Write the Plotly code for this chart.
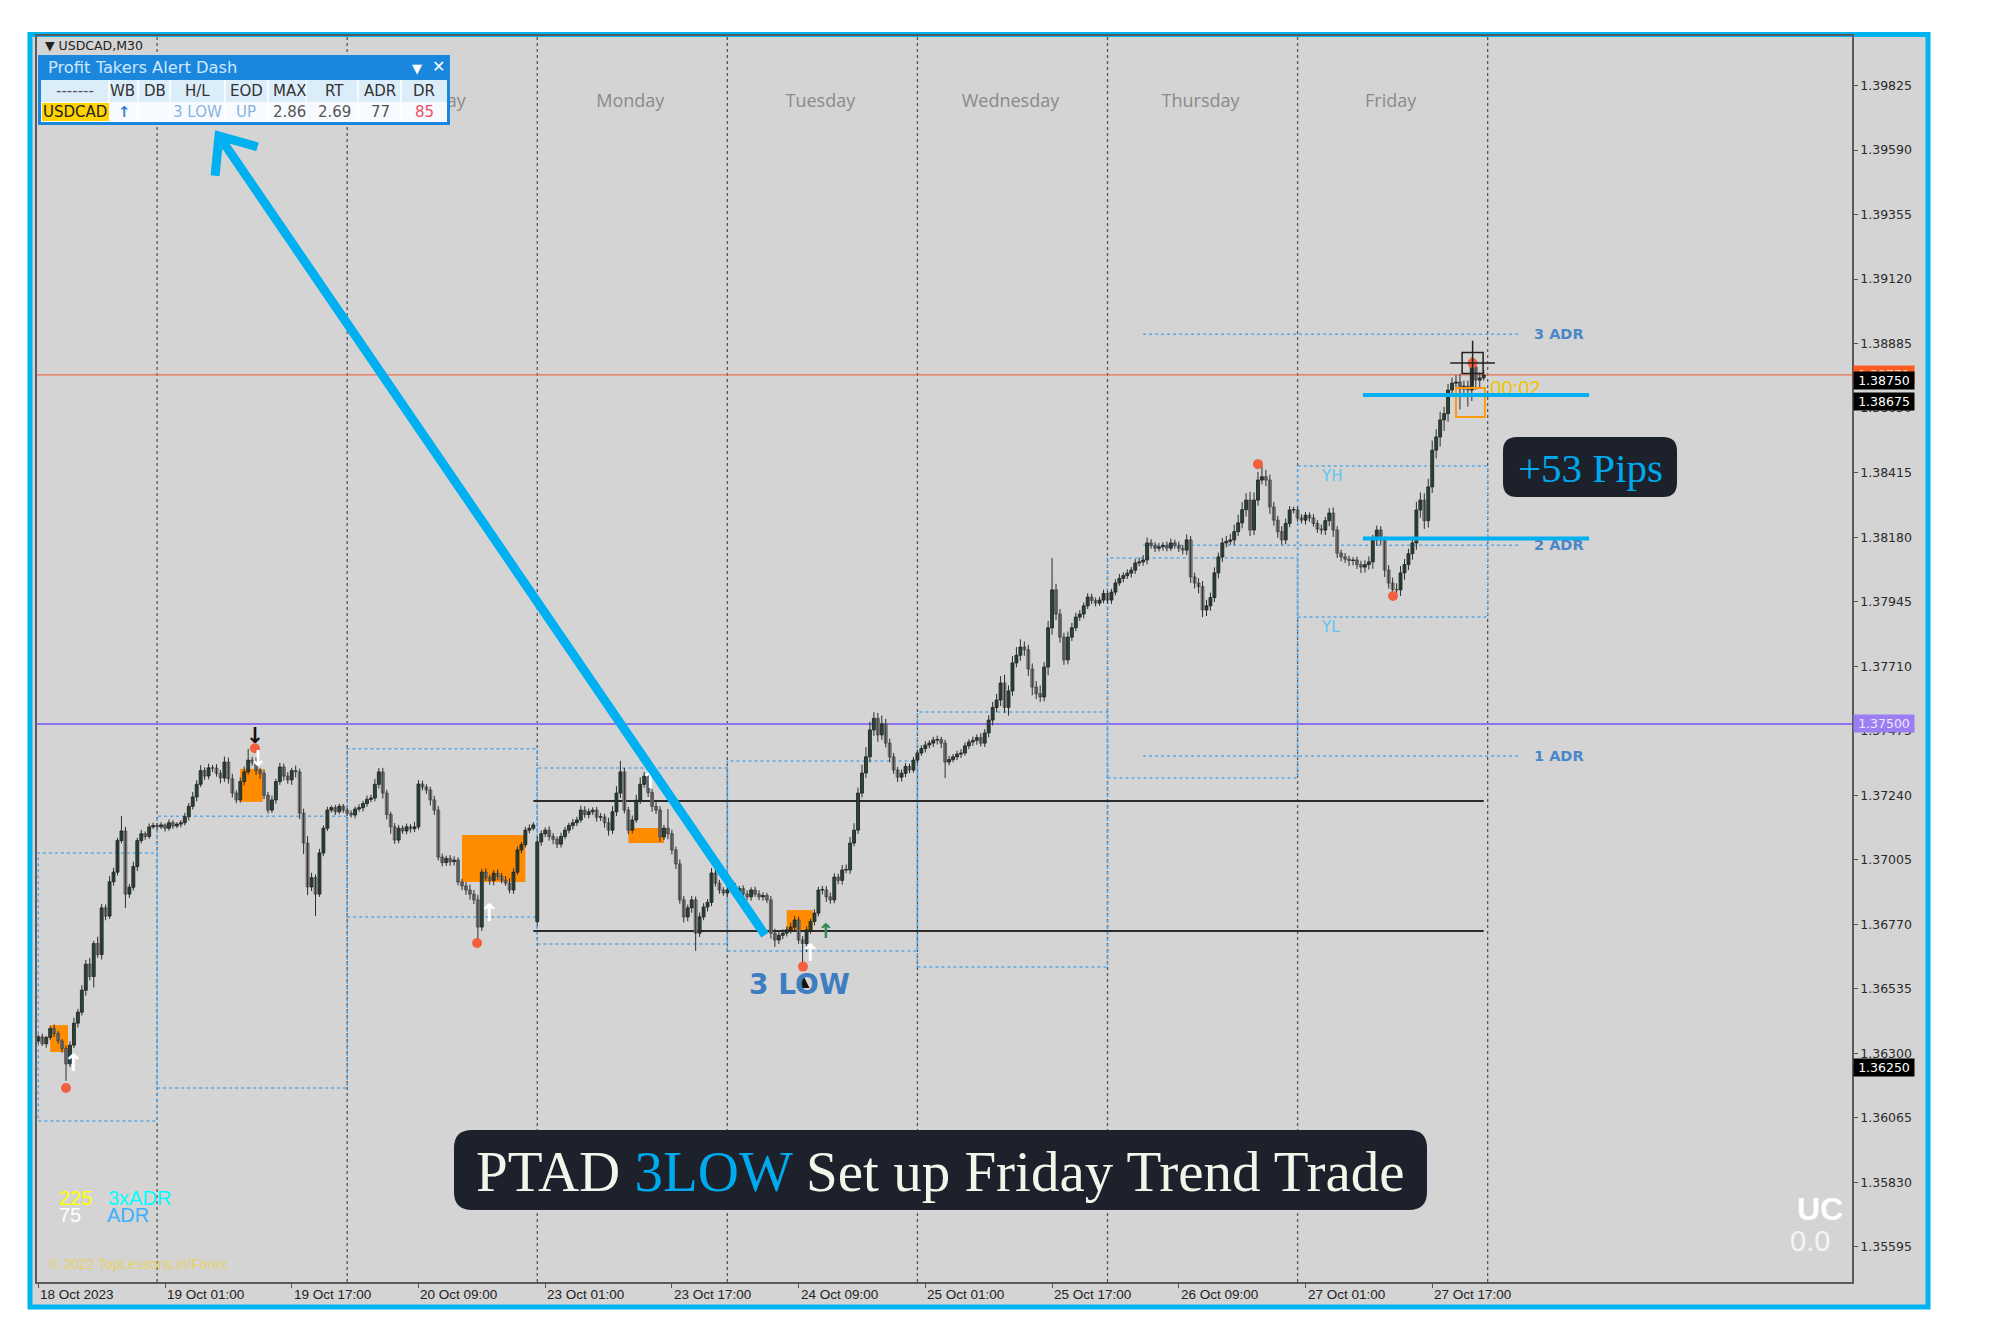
import math
import plotly.graph_objects as go

# ---------------- DATA (prices stored as points above 1.30000) ----------------
FIRST_OPEN = 6345
GAP_OPENS = {126: 6780}

DAY18_C = [6360, 6335, 6358, 6390, 6372, 6345, 6318, 6262, 6330, 6410,
           6450, 6530, 6625, 6580, 6700, 6660, 6830, 6800, 6925, 6960,
           7075, 7110, 6880, 6905, 6980, 7075, 7100, 7090, 7125, 7130]
DAY18_UP = [8, 12, 6, 10, 15, 9, 7, 10, 14, 20, 12, 18, 15, 22, 10, 25, 14, 12, 20, 16,
            10, 54, 15, 12, 18, 10, 14, 8, 12, 10]
DAY18_DN = [10, 8, 14, 9, 12, 10, 15, 62, 12, 10, 16, 12, 20, 14, 40, 12, 18, 15, 10, 14,
            12, 10, 50, 14, 12, 16, 10, 12, 9, 8]

DAY19_C = [7125, 7132, 7120, 7140, 7128, 7135, 7140, 7162, 7200, 7234,
           7280, 7330, 7310, 7340, 7339, 7320, 7303, 7361, 7300, 7248,
           7223, 7290, 7325, 7368, 7360, 7330, 7320, 7240, 7186, 7223,
           7290, 7343, 7310, 7296, 7330, 7325, 7175, 7066, 6906, 6940,
           6880, 7030, 7120, 7186, 7195, 7180, 7200, 7186]
DAY19_UP = [8, 10, 6, 12, 9, 7, 10, 14, 12, 18, 15, 20, 12, 15, 10, 14, 12, 20, 16, 18,
            10, 15, 20, 41, 12, 18, 10, 14, 12, 16, 10, 15, 12, 14, 10, 18, 12, 16, 25, 18,
            12, 15, 10, 12, 8, 10, 9, 8]
DAY19_DN = [10, 8, 12, 9, 10, 8, 12, 10, 14, 12, 16, 10, 14, 12, 15, 12, 20, 14, 18, 16,
            12, 10, 14, 10, 12, 16, 20, 14, 12, 10, 14, 12, 16, 14, 18, 20, 22, 40, 30, 15,
            80, 10, 12, 10, 9, 12, 8, 10]

DAY20_C = [7175, 7168, 7190, 7195, 7210, 7225, 7230, 7280, 7325, 7248,
           7170, 7125, 7077, 7120, 7110, 7125, 7118, 7125, 7281, 7270,
           7259, 7223, 7186, 7015, 6995, 7010, 6998, 7004, 6924, 6910,
           6895, 6880, 6859, 6760, 6960, 6940, 6930, 6956, 6945, 6931,
           6920, 6895, 6960, 7041, 7060, 7113, 7120, 7132]
DAY20_UP = [8, 10, 9, 12, 10, 14, 12, 20, 14, 15, 12, 10, 14, 12, 10, 12, 10, 18, 14, 12,
            10, 12, 15, 14, 12, 10, 12, 14, 10, 12, 14, 20, 15, 18, 12, 14, 10, 12, 14, 12,
            15, 18, 14, 12, 10, 12, 14, 10]
DAY20_DN = [10, 9, 12, 10, 14, 12, 10, 12, 15, 20, 18, 25, 14, 12, 10, 12, 14, 12, 10, 12,
            14, 20, 18, 12, 14, 12, 15, 14, 12, 16, 18, 20, 15, 62, 14, 12, 16, 18, 14, 12,
            10, 12, 14, 10, 12, 10, 12, 8]

DAY23_C = [7070, 7100, 7113, 7090, 7080, 7062, 7090, 7113, 7130, 7140,
           7150, 7186, 7170, 7180, 7186, 7160, 7161, 7140, 7113, 7180,
           7248, 7325, 7186, 7113, 7150, 7222, 7280, 7310, 7250, 7200,
           7186, 7088, 7120, 7100, 7041, 6990, 6859, 6797, 6830, 6859,
           6738, 6797, 6833, 6850, 6957, 6920, 6895, 6884]
DAY23_UP = [20, 12, 10, 14, 12, 10, 14, 12, 10, 14, 12, 16, 14, 12, 10, 12, 14, 12, 18, 20,
            25, 40, 14, 12, 16, 20, 25, 15, 14, 12, 18, 14, 12, 70, 14, 12, 16, 14, 12, 14,
            12, 16, 14, 12, 18, 14, 12, 10]
DAY23_DN = [12, 14, 12, 15, 18, 14, 12, 10, 12, 14, 12, 10, 12, 14, 12, 16, 14, 18, 20, 14,
            16, 18, 12, 14, 12, 10, 14, 12, 16, 20, 14, 18, 12, 20, 16, 18, 14, 20, 16, 18,
            65, 14, 12, 16, 14, 12, 14, 10]

DAY24_C = [6895, 6907, 6890, 6900, 6880, 6870, 6895, 6880, 6870, 6875,
           6859, 6738, 6713, 6730, 6738, 6750, 6760, 6786, 6713, 6700,
           6750, 6780, 6811, 6895, 6895, 6870, 6859, 6942, 6930, 6968,
           6968, 7066, 7113, 7248, 7321, 7380, 7478, 7520, 7460, 7500,
           7430, 7380, 7332, 7306, 7320, 7345, 7332, 7368]
DAY24_UP = [10, 12, 14, 10, 12, 14, 10, 12, 14, 12, 10, 14, 16, 12, 14, 12, 16, 14, 12, 14,
            12, 10, 14, 12, 15, 14, 16, 14, 12, 18, 20, 22, 25, 20, 30, 35, 30, 23, 20, 30,
            18, 16, 14, 12, 14, 12, 10, 12]
DAY24_DN = [12, 10, 14, 12, 10, 12, 14, 10, 12, 14, 12, 20, 25, 15, 14, 12, 14, 16, 14, 85,
            30, 14, 14, 12, 16, 18, 14, 12, 14, 16, 12, 14, 12, 14, 16, 18, 20, 22, 25, 18,
            16, 20, 14, 18, 16, 14, 12, 10]

DAY25_C = [7394, 7410, 7423, 7430, 7441, 7443, 7430, 7361, 7370, 7380,
           7390, 7394, 7420, 7434, 7440, 7450, 7430, 7467, 7514, 7560,
           7587, 7649, 7560, 7620, 7722, 7750, 7780, 7770, 7700, 7634,
           7610, 7598, 7707, 7850, 7988, 7900, 7816, 7733, 7816, 7850,
           7889, 7900, 7930, 7962, 7950, 7940, 7951, 7975]
DAY25_UP = [10, 12, 14, 10, 12, 14, 10, 12, 14, 10, 12, 14, 12, 10, 14, 12, 16, 14, 18, 20,
            22, 25, 30, 20, 25, 30, 28, 20, 18, 20, 22, 30, 18, 25, 116, 22, 18, 16, 20, 18,
            16, 14, 12, 14, 12, 10, 12, 14]
DAY25_DN = [12, 10, 14, 12, 14, 16, 18, 58, 12, 10, 12, 14, 10, 12, 14, 16, 12, 14, 16, 20,
            18, 22, 20, 30, 18, 16, 20, 22, 25, 30, 20, 18, 16, 30, 25, 22, 20, 18, 16, 14,
            12, 14, 16, 12, 14, 12, 10, 12]

DAY26_C = [7951, 7980, 8013, 8030, 8040, 8049, 8060, 8086, 8090, 8097,
           8159, 8150, 8140, 8145, 8150, 8140, 8159, 8150, 8140, 8133,
           8170, 8035, 8013, 8000, 7915, 7930, 7960, 8050, 8108, 8159,
           8165, 8170, 8200, 8232, 8280, 8315, 8206, 8315, 8388, 8400,
           8388, 8290, 8242, 8200, 8170, 8230, 8279, 8279]
DAY26_UP = [10, 12, 14, 16, 12, 14, 12, 14, 16, 18, 20, 14, 12, 14, 12, 14, 16, 12, 14, 12,
            20, 14, 16, 18, 20, 22, 18, 20, 16, 18, 20, 22, 25, 30, 28, 25, 30, 28, 30, 40,
            25, 20, 18, 16, 20, 18, 14, 12]
DAY26_DN = [12, 14, 12, 10, 14, 12, 16, 14, 12, 14, 16, 12, 14, 12, 14, 12, 10, 12, 14, 16,
            18, 22, 20, 25, 26, 22, 18, 16, 20, 18, 16, 14, 18, 16, 20, 25, 22, 18, 20, 16,
            22, 25, 20, 22, 18, 16, 14, 12]

DAY27_C = [8250, 8242, 8260, 8250, 8230, 8210, 8206, 8240, 8268, 8206,
           8122, 8108, 8100, 8095, 8097, 8080, 8071, 8080, 8090, 8170,
           8206, 8170, 8060, 8013, 7990, 7988, 8050, 8080, 8120, 8159,
           8279, 8315, 8240, 8363, 8497, 8545, 8607, 8630, 8716, 8741,
           8745, 8720, 8730, 8716, 8800, 8752, 8760, 8771]
DAY27_UP = [12, 14, 12, 10, 14, 12, 16, 14, 18, 20, 14, 12, 14, 12, 10, 12, 14, 16, 20, 18,
            16, 14, 12, 18, 20, 22, 25, 20, 18, 22, 30, 28, 25, 30, 35, 28, 30, 25, 22, 20,
            25, 30, 20, 20, 35, 22, 20, 18]
DAY27_DN = [14, 12, 16, 14, 12, 14, 16, 18, 20, 25, 18, 16, 14, 20, 18, 16, 22, 20, 18, 25,
            22, 20, 25, 20, 20, 18, 22, 25, 20, 22, 25, 28, 30, 25, 22, 30, 35, 40, 30, 25,
            40, 75, 30, 60, 40, 35, 30, 10]

DAY_SIZES = [30, 48, 48, 48, 48, 48, 48, 48]
# weekday captions shown on the chart (the 18/19 Oct captions sit under the dashboard)
CAPTION_DAYS = [2, 3, 4, 5, 6, 7]
DAY_NAMES = ["Wednesday", "Thursday", "Friday", "Monday", "Tuesday", "Wednesday", "Thursday", "Friday"]

# previous-day high / low boxes (points)
BOX_HIGH = [7030, 7164, 7409, 7339, 7365, 7543, 8104, 8439]
BOX_LOW = [6054, 6174, 6797, 6698, 6673, 6615, 7303, 7889]

# x-axis labels (every 32 bars)
TICK_TEXT = ["18 Oct 2023", "19 Oct 01:00", "19 Oct 17:00", "20 Oct 09:00", "23 Oct 01:00",
             "23 Oct 17:00", "24 Oct 09:00", "25 Oct 01:00", "25 Oct 17:00", "26 Oct 09:00",
             "27 Oct 01:00", "27 Oct 17:00"]
Y_TICKS = [1.39825, 1.39590, 1.39355, 1.39120, 1.38885, 1.38650, 1.38415, 1.38180, 1.37945,
           1.37710, 1.37475, 1.37240, 1.37005, 1.36770, 1.36535, 1.36300, 1.36065, 1.35830,
           1.35595]

ADR_LEVELS = [7383, 8151, 8919]
ADR_NAMES = ["1 ADR", "2 ADR", "3 ADR"]
ADR_FROM, ADR_TO = 279, 374
RANGE_LINES = [7219, 6746]          # black horizontal levels
RANGE_FROM, RANGE_TO = 125, 365
TARGET_LINES = [8698, 8175]          # cyan trade lines
TARGET_FROM, TARGET_TO = 334.5, 391.6
BID_LEVEL = 8771
ROUND_LEVEL = 7500

ZONE_X0 = [3.0, 51.0, 107.0, 149.0, 189.0]
ZONE_X1 = [7.5, 56.7, 123.0, 158.0, 195.6]
ZONE_LO = [6305, 7216, 6924, 7066, 6749]
ZONE_HI = [6403, 7336, 7095, 7121, 6822]

DOT_X = [7.0, 54.7, 110.8, 193.1, 308.0, 342.1, 362.2]
DOT_Y = [6174, 7411, 6702, 6616, 8446, 7966, 8814]
WUP_X = [8.8, 113.8, 194.9, 154.5]
WUP_Y = [6258, 6804, 6658, 7288]
WDN_X = [55.5]
WDN_Y = [7368]
GUP_X = [198.9]
GUP_Y = [6738]
BDN_X = [54.7]
BDN_Y = [7449]
BUP_X = [193.1]
BUP_Y = [6585]

PRICE_BOXES = [(1.38771, "1.38771", "#ff5a1f", "#ffd0c0"),
               (1.38750, "1.38750", "#000000", "#ffffff"),
               (1.38675, "1.38675", "#000000", "#ffffff"),
               (1.37500, "1.37500", "#9b7ff2", "#ece6ff"),
               (1.36250, "1.36250", "#000000", "#ffffff")]

# ---------------- build OHLC ----------------
DAYS_C = [DAY18_C, DAY19_C, DAY20_C, DAY23_C, DAY24_C, DAY25_C, DAY26_C, DAY27_C]
DAYS_UP = [DAY18_UP, DAY19_UP, DAY20_UP, DAY23_UP, DAY24_UP, DAY25_UP, DAY26_UP, DAY27_UP]
DAYS_DN = [DAY18_DN, DAY19_DN, DAY20_DN, DAY23_DN, DAY24_DN, DAY25_DN, DAY26_DN, DAY27_DN]
for n, c, u, d in zip(DAY_SIZES, DAYS_C, DAYS_UP, DAYS_DN):
    assert len(c) == n and len(u) == n and len(d) == n, (n, len(c), len(u), len(d))

closes = [v for day in DAYS_C for v in day]
ups = [v for day in DAYS_UP for v in day]
dns = [v for day in DAYS_DN for v in day]
opens = []
prev = FIRST_OPEN
for i, c in enumerate(closes):
    opens.append(GAP_OPENS.get(i, prev))
    prev = c
highs = [max(o, c) + u for o, c, u in zip(opens, closes, ups)]
lows = [min(o, c) - d for o, c, d in zip(opens, closes, dns)]


def P(v):
    return 1.3 + v / 1e5


day_start = [0]
for n in DAY_SIZES:
    day_start.append(day_start[-1] + n)
N = day_start[-1]
X = list(range(N))

# ---------------- geometry ----------------
W, H = 2000, 1333
PL, PR, PT, PB = 37, 1852, 36, 1282
PW, PH = PR - PL, PB - PT
BAR_PX = 3.96
XR0 = -(38.3 - PL) / BAR_PX
XR1 = XR0 + PW / BAR_PX
PPX = 3.642e-5                      # price per pixel
Y1 = 1.39825 + (85.5 - PT) * PPX
Y0 = Y1 - PH * PPX


def PX(x):
    return (x - PL) / PW


def PY(y):
    return (PB - y) / PH


shapes = []
ann = []
SANS = "DejaVu Sans, Verdana, sans-serif"
ARIAL = "Liberation Sans, Arial, sans-serif"
SERIF = "Liberation Serif, Times New Roman, serif"


def prect(x0, y0, x1, y1, fill=None, line=None, lw=0, layer="above"):
    shapes.append(dict(type="rect", xref="paper", yref="paper", x0=PX(x0), x1=PX(x1),
                       y0=PY(y1), y1=PY(y0), fillcolor=fill or "rgba(0,0,0,0)",
                       line=dict(color=line or "rgba(0,0,0,0)", width=lw), layer=layer))


def pline(x0, y0, x1, y1, color, lw, layer="above", dash="solid"):
    shapes.append(dict(type="line", xref="paper", yref="paper", x0=PX(x0), x1=PX(x1),
                       y0=PY(y0), y1=PY(y1), line=dict(color=color, width=lw, dash=dash),
                       layer=layer))


def rrect(x0, y0, x1, y1, r, fill):
    pts = [("M", x0 + r, y0), ("L", x1 - r, y0), ("Q", x1, y0, x1, y0 + r), ("L", x1, y1 - r),
           ("Q", x1, y1, x1 - r, y1), ("L", x0 + r, y1), ("Q", x0, y1, x0, y1 - r),
           ("L", x0, y0 + r), ("Q", x0, y0, x0 + r, y0)]
    s = ""
    for p in pts:
        coords = p[1:]
        seg = [f"{PX(coords[k]):.6f},{PY(coords[k + 1]):.6f}" for k in range(0, len(coords), 2)]
        s += p[0] + " " + " ".join(seg) + " "
    s += "Z"
    shapes.append(dict(type="path", xref="paper", yref="paper", path=s, fillcolor=fill,
                       line=dict(width=0), layer="above"))


def txt(x, y, s, size, color, family=SANS, xanchor="center", yanchor="middle", bold=False):
    if bold:
        s = "<b>" + s + "</b>"
    ann.append(dict(xref="paper", yref="paper", x=PX(x), y=PY(y), text=s, showarrow=False,
                    xanchor=xanchor, yanchor=yanchor,
                    font=dict(size=size, color=color, family=family)))


# outer cyan frame with grey fill
shapes.append(dict(type="rect", xref="paper", yref="paper", x0=PX(30), x1=PX(1928),
                   y0=PY(1307), y1=PY(34.5), fillcolor="#d4d4d4",
                   line=dict(color="#00b4f0", width=5), layer="below"))

# day separators
for s in day_start[1:]:
    shapes.append(dict(type="line", xref="x", yref="paper", x0=s, x1=s, y0=0, y1=1,
                       line=dict(color="#555555", width=1.3, dash="dot"), layer="below"))

# previous day high/low boxes
for k in range(len(DAY_SIZES)):
    shapes.append(dict(type="rect", xref="x", yref="y", x0=day_start[k], x1=day_start[k + 1],
                       y0=P(BOX_LOW[k]), y1=P(BOX_HIGH[k]), fillcolor="rgba(0,0,0,0)",
                       line=dict(color="#5aa9e6", width=1.5, dash="dot"), layer="below"))

# ADR levels
for lv in ADR_LEVELS:
    shapes.append(dict(type="line", xref="x", yref="y", x0=ADR_FROM, x1=ADR_TO, y0=P(lv), y1=P(lv),
                       line=dict(color="#5aa9e6", width=1.5, dash="dot"), layer="below"))

# bid and round level lines
shapes.append(dict(type="line", xref="paper", yref="y", x0=0, x1=1, y0=P(BID_LEVEL), y1=P(BID_LEVEL),
                   line=dict(color="#e8704f", width=1.2), layer="below"))
shapes.append(dict(type="line", xref="paper", yref="y", x0=0, x1=1, y0=P(ROUND_LEVEL), y1=P(ROUND_LEVEL),
                   line=dict(color="#8f72f0", width=2), layer="below"))

# orange zones
for x0, x1, lo, hi in zip(ZONE_X0, ZONE_X1, ZONE_LO, ZONE_HI):
    shapes.append(dict(type="rect", xref="x", yref="y", x0=x0, x1=x1, y0=P(lo), y1=P(hi),
                       fillcolor="#ff8c00", line=dict(width=0), layer="below"))
shapes.append(dict(type="rect", xref="x", yref="y", x0=358, x1=365.3, y0=P(8618), y1=P(8723),
                   fillcolor="rgba(0,0,0,0)", line=dict(color="#ff9a10", width=2), layer="above"))

# black range lines
for lv in RANGE_LINES:
    shapes.append(dict(type="line", xref="x", yref="y", x0=RANGE_FROM, x1=RANGE_TO, y0=P(lv), y1=P(lv),
                       line=dict(color="#2a2a2a", width=2), layer="below"))

# cyan target lines
for lv in TARGET_LINES:
    shapes.append(dict(type="line", xref="x", yref="y", x0=TARGET_FROM, x1=TARGET_TO, y0=P(lv), y1=P(lv),
                       line=dict(color="#00b0f0", width=4), layer="above"))

# big cyan arrow
tail = (765, 935)
tip = (219, 136)
dx, dy = tail[0] - tip[0], tail[1] - tip[1]
L = math.hypot(dx, dy)
bx, by = dx / L, dy / L
arms = []
for th in (math.radians(40), math.radians(-40)):
    ax = bx * math.cos(th) - by * math.sin(th)
    ay = bx * math.sin(th) + by * math.cos(th)
    arms.append((tip[0] + 40 * ax, tip[1] + 40 * ay))


def pp(p):
    return f"{PX(p[0]):.6f},{PY(p[1]):.6f}"


apath = f"M {pp(tail)} L {pp(tip)} M {pp(arms[0])} L {pp(tip)} L {pp(arms[1])}"
shapes.append(dict(type="path", xref="paper", yref="paper", path=apath,
                   line=dict(color="#00b0f0", width=9), layer="above"))

# ---------------- dashboard ----------------
prect(38, 55, 450, 125, fill="#1a86dc")
prect(41, 80, 447, 102, fill="#dcedfa")
prect(41, 102, 447, 122, fill="#f7fbff")
for cx in [109, 138, 170, 225, 268, 306, 358, 401]:
    pline(cx, 80, cx, 122, "#ffffff", 1.5)
prect(42, 103, 109, 121, fill="#ffd400")
txt(46, 67.5, "Profit Takers Alert Dash", 16.3, "#cfe6ff", xanchor="left")
txt(417, 68, "▼", 13, "#ffffff")
txt(438, 67, "✕", 16, "#ffffff", bold=True)
for lab, cx in zip(["-------", "WB", "DB", "H/L", "EOD", "MAX", "RT", "ADR", "DR"],
                   [75, 122, 155, 197, 246, 289, 334, 380, 424]):
    txt(cx, 91, lab, 15, "#555555" if lab.startswith("-") else "#333333")
row = [("USDCAD", 75, "#222222"), ("↑", 124, "#3b7fd0"), ("3 LOW", 197, "#8ab4e0"),
       ("UP", 246, "#8ab4e0"), ("2.86", 289, "#555555"), ("2.69", 334, "#555555"),
       ("77", 380, "#555555"), ("85", 424, "#e8506a")]
for lab, cx, col in row:
    txt(cx, 112, lab, 15, col, bold=(lab == "↑"))

txt(43, 45, "▼ USDCAD,M30", 12.5, "#222222", xanchor="left")

# ---------------- labels ----------------
for lv, name in zip(ADR_LEVELS, ADR_NAMES):
    ann.append(dict(xref="x", yref="y", x=ADR_TO + 3.2, y=P(lv), text="<b>" + name + "</b>",
                    showarrow=False, xanchor="left", yanchor="middle",
                    font=dict(size=14.5, color="#4a86c8", family=SANS)))
ann.append(dict(xref="x", yref="y", x=323.5, y=P(BOX_HIGH[7]), text="YH", showarrow=False,
                xanchor="left", yanchor="top", yshift=1, font=dict(size=15, color="#5cc6f2", family=SANS)))
ann.append(dict(xref="x", yref="y", x=323.5, y=P(BOX_LOW[7]), text="YL", showarrow=False,
                xanchor="left", yanchor="top", yshift=1, font=dict(size=15, color="#5cc6f2", family=SANS)))

txt(799, 985, "3 LOW", 28, "#3d7ec0", bold=True)

# price boxes on the right axis
for val, s, bg, fg in PRICE_BOXES:
    ann.append(dict(xref="paper", yref="y", x=1.0, y=val, text=s, showarrow=False, xanchor="left",
                    yanchor="middle", xshift=1, bgcolor=bg, borderpad=1, width=58,
                    font=dict(size=12.5, color=fg, family=SANS)))

# x-axis labels
for k, s in enumerate(TICK_TEXT):
    ann.append(dict(xref="x", yref="paper", x=k * 32, y=0, text=s, showarrow=False,
                    xanchor="left", yanchor="top", yshift=-3,
                    font=dict(size=13.5, color="#222222",
                              family="Liberation Sans Narrow, Arial Narrow, Liberation Sans, sans-serif")))

# bottom-left info
txt(57, 1198, "225", 20, "#ffff00", family=ARIAL, xanchor="left")
txt(106, 1198, "3xADR", 20, "#00ffff", family=ARIAL, xanchor="left")
txt(57, 1215, "75", 20, "#ffffff", family=ARIAL, xanchor="left")
txt(105, 1215, "ADR", 20, "#3ab0ff", family=ARIAL, xanchor="left")
txt(47, 1264, "© 2022 TopLessons.in/Forex", 14, "rgba(236,208,60,0.75)", family=ARIAL, xanchor="left")
txt(1820, 1209, "UC", 32, "#ffffff", family=ARIAL, bold=True)
txt(1810, 1241, "0.0", 29, "#f4f4f4", family=ARIAL)

# +53 Pips box
rrect(1503, 437, 1677, 497, 14, "#1c212b")
txt(1590, 468, "+53 Pips", 41, "#00a8ec", family=SERIF)

# banner
rrect(454, 1130, 1427, 1210, 18, "#1c212b")
txt(940, 1171, "PTAD <span style='color:#00a8ec'>3LOW</span> Set up Friday Trend Trade", 57,
    "#f2f5ea", family=SERIF)

# ---------------- traces ----------------
fig = go.Figure()

fig.add_trace(go.Scatter(x=[day_start[k] + 23.5 for k in CAPTION_DAYS],
                         y=[1.39764] * len(CAPTION_DAYS), mode="text",
                         text=[DAY_NAMES[k] for k in CAPTION_DAYS],
                         textfont=dict(size=18, color="#8a8a8a", family="Open Sans, Noto Sans, sans-serif"),
                         hoverinfo="skip"))

# candle wicks
wx, wy = [], []
for i in X:
    wx += [i, i, None]
    wy += [P(lows[i]), P(highs[i]), None]
fig.add_trace(go.Scatter(x=wx, y=wy, mode="lines", line=dict(color="#2e2e2e", width=1),
                         hoverinfo="skip", connectgaps=False))

# candle bodies
MIN_BODY = 2
bull = [i for i in X if closes[i] >= opens[i]]
bear = [i for i in X if closes[i] < opens[i]]
fig.add_trace(go.Bar(x=bull, base=[P(opens[i]) for i in bull],
                     y=[max(closes[i] - opens[i], MIN_BODY) / 1e5 for i in bull],
                     width=0.74, marker=dict(color="#2a5e3e", line=dict(color="#151515", width=0.8)),
                     hoverinfo="skip"))
fig.add_trace(go.Bar(x=bear, base=[P(closes[i]) for i in bear],
                     y=[(opens[i] - closes[i]) / 1e5 for i in bear],
                     width=0.74, marker=dict(color="#8e8e8e", line=dict(color="#555555", width=0.8)),
                     hoverinfo="skip"))

fig.add_trace(go.Scatter(x=[373], y=[P(8716)], mode="text", text=["00:02"],
                         textfont=dict(size=20, color="#f0c400", family=ARIAL), hoverinfo="skip"))

fig.add_trace(go.Scatter(x=DOT_X, y=[P(v) for v in DOT_Y], mode="markers",
                         marker=dict(size=10, color="#f2603f", line=dict(width=0)), hoverinfo="skip"))
fig.add_trace(go.Scatter(x=WUP_X, y=[P(v) for v in WUP_Y], mode="text", text=["<b>↑</b>"] * len(WUP_X),
                         textfont=dict(size=24, color="#ffffff", family=SANS), hoverinfo="skip"))
fig.add_trace(go.Scatter(x=WDN_X, y=[P(v) for v in WDN_Y], mode="text", text=["<b>↓</b>"] * len(WDN_X),
                         textfont=dict(size=22, color="#ffffff", family=SANS), hoverinfo="skip"))
fig.add_trace(go.Scatter(x=GUP_X, y=[P(v) for v in GUP_Y], mode="text", text=["<b>↑</b>"] * len(GUP_X),
                         textfont=dict(size=20, color="#2e8b57", family=SANS), hoverinfo="skip"))
fig.add_trace(go.Scatter(x=BDN_X, y=[P(v) for v in BDN_Y], mode="text", text=["<b>↓</b>"] * len(BDN_X),
                         textfont=dict(size=22, color="#111111", family=SANS), hoverinfo="skip"))
fig.add_trace(go.Scatter(x=BUP_X, y=[P(v) for v in BUP_Y], mode="markers",
                         marker=dict(symbol="arrow-up", size=13, color="#111111", line=dict(width=0)),
                         hoverinfo="skip"))
fig.add_trace(go.Scatter(x=[DOT_X[-1]], y=[P(DOT_Y[-1])], mode="markers",
                         marker=dict(symbol="square-open", size=21, color="#222222", line=dict(width=1.5)),
                         hoverinfo="skip"))
fig.add_trace(go.Scatter(x=[DOT_X[-1]], y=[P(DOT_Y[-1])], mode="markers",
                         marker=dict(symbol="cross-thin-open", size=32, color="#222222", line=dict(width=1.5)),
                         hoverinfo="skip"))

fig.update_layout(
    width=W, height=H, autosize=False,
    margin=dict(l=PL, r=W - PR, t=PT, b=H - PB, pad=0),
    paper_bgcolor="#ffffff", plot_bgcolor="#d4d4d4",
    showlegend=False, hovermode=False, barmode="overlay",
    shapes=shapes, annotations=ann,
    xaxis=dict(range=[XR0, XR1], showgrid=False, zeroline=False, showline=True,
               linecolor="#5a5a5a", linewidth=1.5, mirror=True, ticks="outside", ticklen=4,
               tickcolor="#555555", tickvals=[k * 32 for k in range(len(TICK_TEXT))],
               showticklabels=False, fixedrange=True),
    yaxis=dict(range=[Y0, Y1], side="right", showgrid=False, zeroline=False, showline=True,
               linecolor="#5a5a5a", linewidth=1.5, mirror=True, ticks="outside", ticklen=4,
               tickcolor="#555555", tickvals=Y_TICKS, ticktext=[f"{v:.5f}" for v in Y_TICKS],
               tickfont=dict(size=12.5, color="#2a2a2a", family=SANS), fixedrange=True),
)

fig.write_html("out.html", config={"displayModeBar": False},
               post_script="document.body.style.margin='0';document.body.style.overflow='hidden';")
